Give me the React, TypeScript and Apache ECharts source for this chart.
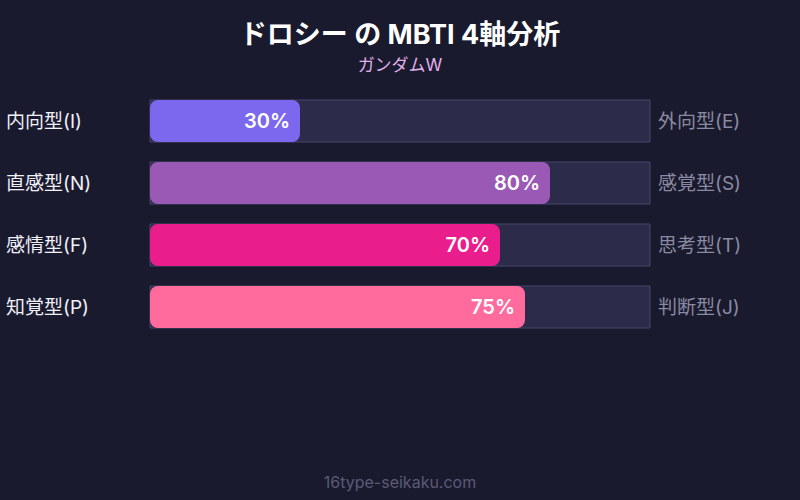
import * as echarts from 'echarts';
import { useEffect, useRef } from 'react';

const leftLabels = ['内向型(I)', '直感型(N)', '感情型(F)', '知覚型(P)'];
const rightLabels = ['外向型(E)', '感覚型(S)', '思考型(T)', '判断型(J)'];
const values = [30, 80, 70, 75];
const colors = ['#7b68ee', '#9b59b6', '#e91e8c', '#ff6b9d'];

const FONT = 'Inter, "Noto Sans CJK JP", sans-serif';

function App() {
  const chartRef = useRef(null);

  useEffect(() => {
    const myChart = echarts.init(chartRef.current, null, { renderer: 'svg' });

    const option = {
      animation: false,
      backgroundColor: '#1a1a2e',
      textStyle: { fontFamily: FONT },
      title: {
        text: 'ドロシー の MBTI 4軸分析',
        subtext: 'ガンダムW',
        left: 'center',
        top: 16,
        itemGap: 9,
        textStyle: { color: '#ffffff', fontSize: 27, fontWeight: 'bold', fontFamily: FONT },
        subtextStyle: { color: '#e0b0e8', fontSize: 17, fontFamily: FONT },
      },
      graphic: [
        {
          type: 'text',
          left: 'center',
          top: 474,
          style: { text: '16type-seikaku.com', fill: '#5a5a78', fontSize: 16, fontFamily: FONT },
        },
      ],
      grid: { left: 150, right: 150, top: 90, height: 248 },
      xAxis: { type: 'value', min: 0, max: 100, show: false },
      yAxis: [
        {
          type: 'category',
          data: leftLabels,
          inverse: true,
          position: 'left',
          axisLine: { show: false },
          axisTick: { show: false },
          axisLabel: {
            color: '#f0f0f8',
            fontSize: 19,
            align: 'left',
            margin: 144,
            padding: [0, 0, 3, 0],
            fontFamily: FONT,
          },
        },
        {
          type: 'category',
          data: rightLabels,
          inverse: true,
          position: 'right',
          axisLine: { show: false },
          axisTick: { show: false },
          axisLabel: {
            color: '#8a8aa2',
            fontSize: 19,
            align: 'left',
            margin: 8,
            padding: [0, 0, 3, 0],
            fontFamily: FONT,
          },
        },
      ],
      series: [
        {
          type: 'bar',
          yAxisIndex: 0,
          barWidth: 42,
          showBackground: true,
          backgroundStyle: { color: '#2d2b4a', borderColor: '#46446a', borderWidth: 1 },
          itemStyle: { borderRadius: 8 },
          label: {
            show: true,
            position: 'insideRight',
            distance: 10,
            formatter: '{c}%',
            color: '#ffffff',
            fontSize: 20,
            fontWeight: 600,
            fontFamily: FONT,
          },
          data: values.map((v, i) => ({ value: v, itemStyle: { color: colors[i] } })),
        },
      ],
    };

    myChart.setOption(option);

    return () => {
      myChart.dispose();
    };
  }, []);

  return <div ref={chartRef} style={{ width: '800px', height: '500px', position: 'absolute', left: 0, top: 0 }}></div>;
}

export default App;
